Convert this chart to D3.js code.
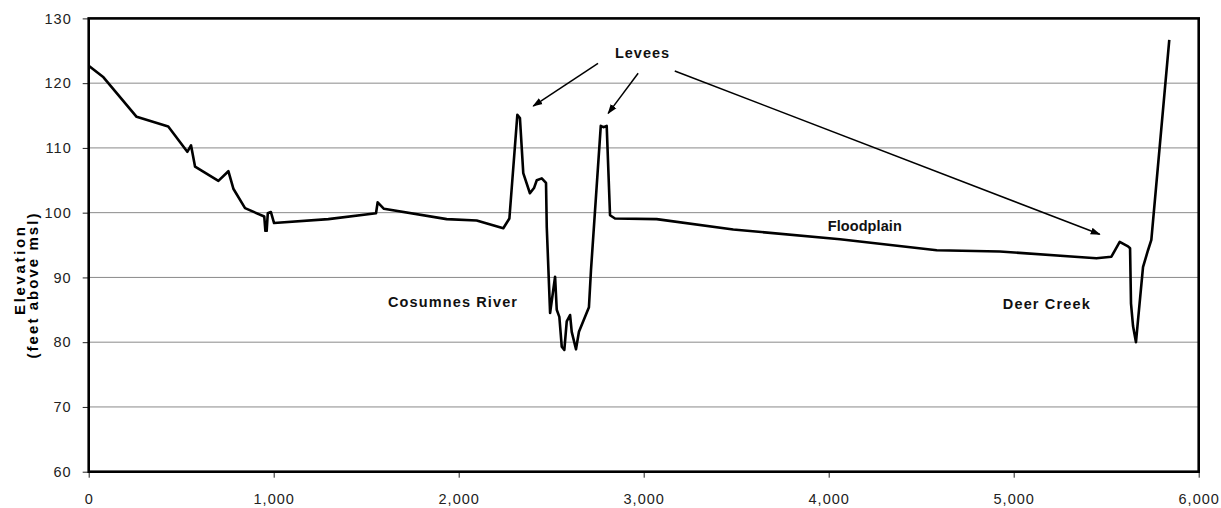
<!DOCTYPE html>
<html>
<head>
<meta charset="utf-8">
<script src="https://cdn.jsdelivr.net/npm/d3@7"></script>
<style>
  body { margin: 0; background: #ffffff; }
  svg text { font-family: "Liberation Sans", Arial, sans-serif; }
</style>
</head>
<body>
<div id="chart"></div>
<script>
// distance along the section (feet) and ground elevation (feet above msl)
let distance = [
    0, 80, 259, 430, 533, 553, 575, 701, 755, 782, 845, 949, 955, 962, 968, 985, 1002,
    1295, 1553, 1562, 1596, 1935, 2097, 2241, 2274, 2317, 2331, 2349, 2385, 2407, 2422,
    2449, 2472, 2476, 2494, 2521, 2530, 2544, 2557, 2571, 2584, 2602, 2611, 2634, 2650,
    2704, 2715, 2768, 2782, 2800, 2818, 2845, 3070, 3484, 4061, 4584, 4925, 5447, 5528,
    5573, 5618, 5629, 5634, 5645, 5661, 5672, 5699, 5726, 5744, 5841
];
let elevation = [
    122.7, 120.9, 114.8, 113.3, 109.4, 110.4, 107.1, 104.9, 106.4, 103.7, 100.7, 99.4, 97.2, 97.2, 99.9, 100.1, 98.4,
    99.0, 99.9, 101.6, 100.6, 99.0, 98.8, 97.6, 99.1, 115.1, 114.6, 106.1, 103.0, 103.8, 105.0,
    105.3, 104.6, 97.8, 84.5, 90.1, 85.0, 83.9, 79.3, 78.8, 83.2, 84.2, 81.6, 78.9, 81.6,
    85.4, 91.1, 113.4, 113.2, 113.4, 99.6, 99.1, 99.0, 97.4, 95.9, 94.2, 94.0, 92.95, 93.2,
    95.5, 94.8, 94.5, 86.0, 82.5, 80.0, 83.4, 91.6, 94.2, 95.8, 126.7
];

let xTicks = [0, 1000, 2000, 3000, 4000, 5000, 6000];
let yTicks = [60, 70, 80, 90, 100, 110, 120, 130];

// annotation labels: text, distance, elevation of baseline start
let labelText = ["Levees", "Floodplain", "Cosumnes River", "Deer Creek"];
let labelX = [2845, 3995, 1618, 4941];
let labelY = [123.9, 97.2, 85.5, 85.2];
let labelLen = [54, 74, 129, 87];

// arrows from "Levees" to the levee crests
let arrowFrom = [[2753, 123.07], [2970, 121.52], [3168, 121.88]];
let arrowTo = [[2403, 116.47], [2808, 115.34], [5465, 96.66]];

main();

function main() {
    let W = 1221, H = 508;
    let left = 88.7, right = 1198.7, top = 18.4, bottom = 471.7;

    let svg = d3.select("#chart").append("svg")
        .attr("width", W)
        .attr("height", H);

    let x = d3.scaleLinear().domain([0, 6000]).range([left, right]);
    let y = d3.scaleLinear().domain([60, 130]).range([bottom, top]);

    // grid lines
    svg.append("g").selectAll("line")
        .data(yTicks.filter(d => d > 60 && d < 130))
        .enter().append("line")
        .attr("x1", left).attr("x2", right)
        .attr("y1", d => y(d)).attr("y2", d => y(d))
        .attr("stroke", "#8a8a8a")
        .attr("stroke-width", 1);

    // axes
    let xAxis = svg.append("g")
        .attr("transform", "translate(0," + bottom + ")")
        .call(d3.axisBottom(x).tickValues(xTicks).tickFormat(d3.format(",")).tickSize(6).tickPadding(16));
    let yAxis = svg.append("g")
        .attr("transform", "translate(" + left + ",0)")
        .call(d3.axisLeft(y).tickValues(yTicks).tickSize(6).tickPadding(11));

    [xAxis, yAxis].forEach(ax => {
        ax.select(".domain").remove();
        ax.selectAll(".tick line").attr("stroke", "#222");
        ax.selectAll(".tick text")
            .attr("fill", "#222")
            .style("font-size", "14.5px")
            .style("letter-spacing", "1px");
    });

    // plot frame
    svg.append("rect")
        .attr("x", left).attr("y", top)
        .attr("width", right - left).attr("height", bottom - top)
        .attr("fill", "none")
        .attr("stroke", "#000")
        .attr("stroke-width", 2.6);

    // profile line
    let pts = distance.map((d, i) => [d, elevation[i]]);
    let line = d3.line().x(d => x(d[0])).y(d => y(d[1]));
    svg.append("path")
        .datum(pts)
        .attr("d", line)
        .attr("fill", "none")
        .attr("stroke", "#000")
        .attr("stroke-width", 2.6)
        .attr("stroke-linejoin", "round");

    // arrow marker
    svg.append("defs").append("marker")
        .attr("id", "arrow")
        .attr("viewBox", "0 0 10 10")
        .attr("refX", 9).attr("refY", 5)
        .attr("markerWidth", 10).attr("markerHeight", 10)
        .attr("markerUnits", "userSpaceOnUse")
        .attr("orient", "auto")
        .append("path")
        .attr("d", "M0,1.5 L10,5 L0,8.5 Z")
        .attr("fill", "#000");

    svg.append("g").selectAll("line")
        .data(arrowFrom)
        .enter().append("line")
        .attr("x1", d => x(d[0])).attr("y1", d => y(d[1]))
        .attr("x2", (d, i) => x(arrowTo[i][0])).attr("y2", (d, i) => y(arrowTo[i][1]))
        .attr("stroke", "#000")
        .attr("stroke-width", 1.5)
        .attr("marker-end", "url(#arrow)");

    // labels
    svg.append("g").selectAll("text")
        .data(labelText)
        .enter().append("text")
        .attr("x", (d, i) => x(labelX[i]))
        .attr("y", (d, i) => y(labelY[i]))
        .attr("textLength", (d, i) => labelLen[i])
        .attr("lengthAdjust", "spacing")
        .style("font-size", "14.5px")
        .style("font-weight", "bold")
        .attr("fill", "#111")
        .text(d => d);

    // y axis title
    let midY = (top + bottom) / 2;
    svg.append("text")
        .attr("transform", "translate(25,271) rotate(-90)")
        .attr("text-anchor", "middle")
        .attr("textLength", 88)
        .attr("lengthAdjust", "spacing")
        .style("font-size", "15px")
        .style("font-weight", "bold")
        .text("Elevation");
    svg.append("text")
        .attr("transform", "translate(37.5,286) rotate(-90)")
        .attr("text-anchor", "middle")
        .attr("textLength", 145)
        .attr("lengthAdjust", "spacing")
        .style("font-size", "15px")
        .style("font-weight", "bold")
        .text("(feet above msl)");
}
</script>
</body>
</html>
